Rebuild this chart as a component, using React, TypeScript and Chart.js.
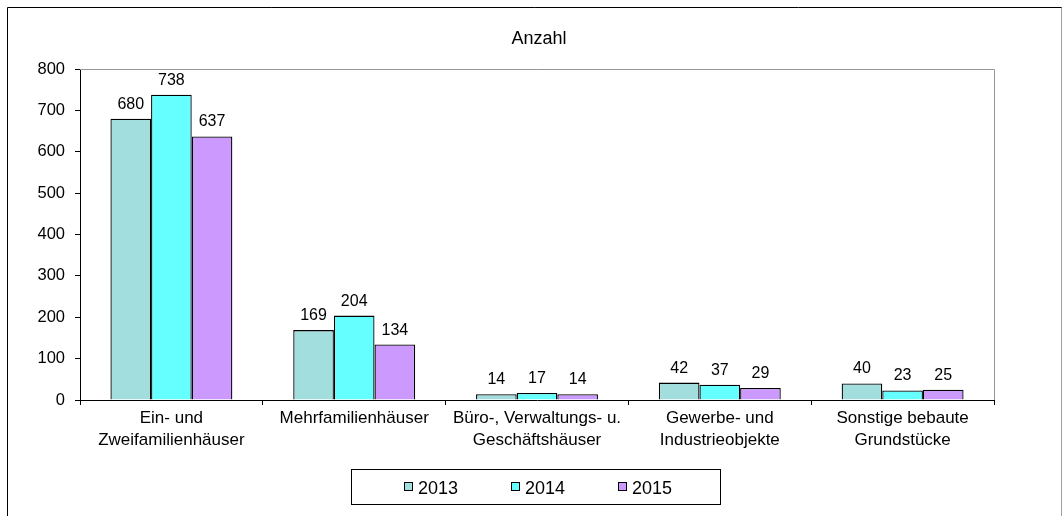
import React, { useEffect, useRef } from "react";
import { Chart, registerables } from "chart.js";

Chart.register(...registerables);

const categories: string[][] = [
  ["Ein- und", "Zweifamilienhäuser"],
  ["Mehrfamilienhäuser"],
  ["Büro-, Verwaltungs- u.", "Geschäftshäuser"],
  ["Gewerbe- und", "Industrieobjekte"],
  ["Sonstige bebaute", "Grundstücke"],
];
const seriesLabels = ["2013", "2014", "2015"];
const values2013 = [680, 169, 14, 42, 40];
const values2014 = [738, 204, 17, 37, 23];
const values2015 = [637, 134, 14, 29, 25];
const seriesColors = ["#a3dede", "#66ffff", "#cc99ff"];
const yTicks = [0, 100, 200, 300, 400, 500, 600, 700, 800];
const titleText = "Anzahl";

const FONT = '"Liberation Sans", Arial, sans-serif';

export default function App() {
  const ref = useRef<HTMLCanvasElement | null>(null);

  useEffect(() => {
    const canvas = ref.current;
    if (!canvas) return;

    const decor = {
      id: "decor",
      afterDraw(chart: any) {
        const ctx = chart.ctx;
        const a = chart.chartArea;
        ctx.save();
        // outer frame
        ctx.lineWidth = 1;
        ctx.strokeStyle = "#000";
        ctx.beginPath();
        ctx.moveTo(7.5, 516);
        ctx.lineTo(7.5, 7.5);
        ctx.lineTo(1062, 7.5);
        ctx.stroke();
        ctx.strokeStyle = "#a0a0a0";
        ctx.beginPath();
        ctx.moveTo(1061.5, 7.5);
        ctx.lineTo(1061.5, 516);
        ctx.stroke();
        // plot area top/right border
        ctx.strokeStyle = "#969696";
        ctx.beginPath();
        ctx.moveTo(a.left, Math.round(a.top) + 0.5);
        ctx.lineTo(Math.round(a.right) + 0.5, Math.round(a.top) + 0.5);
        ctx.lineTo(Math.round(a.right) + 0.5, a.bottom);
        ctx.stroke();
        // title
        ctx.fillStyle = "#000";
        ctx.font = "18px " + FONT;
        ctx.textAlign = "center";
        ctx.textBaseline = "alphabetic";
        ctx.fillText(titleText, 539, 44);
        // data labels
        ctx.font = "16px " + FONT;
        chart.data.datasets.forEach((ds: any, i: number) => {
          const meta = chart.getDatasetMeta(i);
          meta.data.forEach((bar: any, j: number) => {
            ctx.fillText(String(ds.data[j]), bar.x, bar.y - 10);
          });
        });
        // legend
        ctx.strokeStyle = "#000";
        ctx.strokeRect(351.5, 469.5, 369, 35);
        const sqX = [404.5, 511.5, 618.5];
        const txX = [418, 525, 632];
        ctx.font = "18px " + FONT;
        ctx.textAlign = "left";
        seriesLabels.forEach((lab, i) => {
          ctx.fillStyle = seriesColors[i];
          ctx.fillRect(sqX[i], 482.5, 8, 8);
          ctx.strokeStyle = "#000";
          ctx.strokeRect(sqX[i], 482.5, 8, 8);
          ctx.fillStyle = "#000";
          ctx.fillText(lab, txX[i], 494);
        });
        ctx.restore();
      },
    };

    const chart = new Chart(canvas, {
      type: "bar",
      data: {
        labels: categories,
        datasets: [values2013, values2014, values2015].map((d, i) => ({
          label: seriesLabels[i],
          data: d,
          backgroundColor: seriesColors[i],
          borderColor: "#000",
          borderWidth: 1.3,
          categoryPercentage: 0.667,
          barPercentage: 1,
        })),
      },
      options: {
        responsive: false,
        animation: false,
        layout: { padding: { left: 30, right: 69, top: 69, bottom: 0 } },
        plugins: {
          legend: { display: false },
          title: { display: false },
          tooltip: { enabled: false },
        },
        scales: {
          x: {
            afterFit(scale: any) {
              scale.height = 116;
            },
            grid: {
              display: true,
              drawOnChartArea: false,
              drawTicks: true,
              tickLength: 5,
              color: "#000",
              offset: true,
            },
            border: { display: true, color: "#000", width: 1 },
            ticks: {
              color: "#000",
              font: { family: FONT, size: 17, lineHeight: 1.27 },
              padding: 3,
              maxRotation: 0,
              autoSkip: false,
            },
          },
          y: {
            min: 0,
            max: 800,
            afterFit(scale: any) {
              scale.width = 50;
            },
            afterBuildTicks(scale: any) {
              scale.ticks = yTicks.map((v) => ({ value: v }));
            },
            grid: {
              display: true,
              drawOnChartArea: false,
              drawTicks: true,
              tickLength: 5,
              color: "#000",
            },
            border: { display: true, color: "#000", width: 1 },
            ticks: {
              color: "#000",
              font: { family: FONT, size: 16.5 },
              padding: 10,
            },
          },
        },
      },
      plugins: [decor],
    } as any);

    return () => chart.destroy();
  }, []);

  return (
    <div style={{ position: "fixed", left: 0, top: 0, width: 1063, height: 516, background: "#fff" }}>
      <canvas ref={ref} width={1063} height={516} style={{ display: "block" }} />
    </div>
  );
}
